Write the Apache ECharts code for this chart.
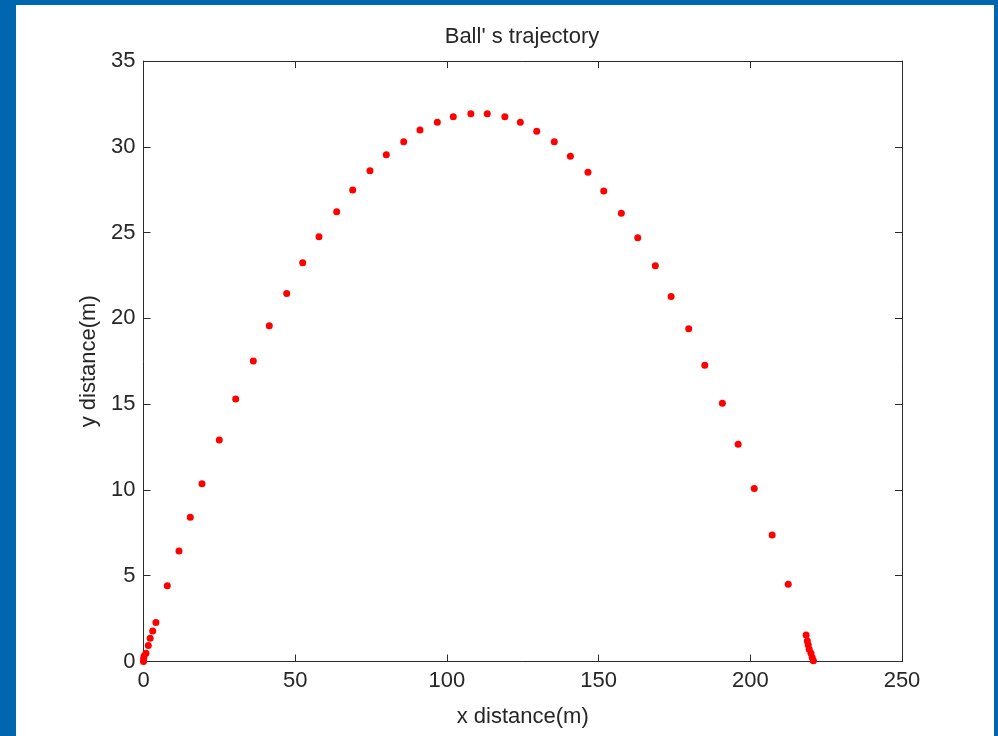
<!DOCTYPE html>
<html>
<head>
<meta charset="utf-8">
<title>Ball' s trajectory</title>
<script src="https://cdn.jsdelivr.net/npm/echarts@6/dist/echarts.min.js"></script>
<style>
  html, body { margin: 0; padding: 0; background: #0066b0; }
  #chart { width: 998px; height: 736px; }
</style>
</head>
<body>
<div id="chart"></div>
<script>
// Horizontal distance of the ball at each solver step (m)
const xDist = [
  0, 0.05, 0.2, 0.82, 1.58, 2.2, 3.03, 4.09, 7.84, 11.7, 15.42, 19.28, 24.98, 30.39,
  36.19, 41.46, 47.2, 52.47, 57.84, 63.68, 68.95, 74.65, 80.03, 85.76, 91.13, 96.84,
  102.1, 107.9, 113.3, 119.1, 124.2, 129.6, 135.4, 140.7, 146.5, 151.7, 157.5, 162.9,
  168.7, 173.9, 179.7, 185.0, 190.8, 196.0, 201.3, 207.2, 212.5,
  218.4, 218.8, 219.1, 219.4, 220.0, 220.4, 220.8
];
// Height of the ball at each solver step (m)
const yDist = [
  0, 0.18, 0.32, 0.48, 0.93, 1.36, 1.78, 2.27, 4.42, 6.44, 8.41, 10.36, 12.91, 15.30,
  17.51, 19.57, 21.45, 23.24, 24.76, 26.22, 27.48, 28.61, 29.54, 30.30, 30.98, 31.43,
  31.75, 31.93, 31.93, 31.75, 31.43, 30.90, 30.30, 29.45, 28.51, 27.42, 26.12, 24.70,
  23.07, 21.27, 19.40, 17.26, 15.05, 12.66, 10.09, 7.37, 4.50,
  1.54, 1.19, 0.96, 0.71, 0.48, 0.24, 0.05
];
const xTicks = [0, 50, 100, 150, 200, 250];
const yTicks = [0, 5, 10, 15, 20, 25, 30, 35];

const points = xDist.map((x, i) => [x, yDist[i]]);

const FONT = 'Liberation Sans, Arial, sans-serif';
const TEXT = '#262626';
const AXIS = '#2b2b2b';

function baseAxis(ticks, extra) {
  return Object.assign({
    type: 'value',
    min: ticks[0],
    max: ticks[ticks.length - 1],
    interval: ticks[1] - ticks[0],
    splitLine: { show: false },
    axisLine: { show: true, onZero: false, lineStyle: { color: AXIS, width: 1 } },
    axisTick: { show: true, inside: true, length: 7, lineStyle: { color: AXIS, width: 1 } }
  }, extra);
}

const chart = echarts.init(document.getElementById('chart'), null, { renderer: 'canvas' });
chart.setOption({
  backgroundColor: '#0066b0',
  animation: false,
  graphic: [{
    type: 'rect',
    z: -10,
    shape: { x: 16, y: 5, width: 978, height: 740 },
    style: { fill: '#ffffff' }
  }],
  title: {
    text: "Ball' s trajectory",
    left: 517,
    textAlign: 'center',
    top: 21,
    textStyle: { fontFamily: FONT, fontSize: 22, fontWeight: 'normal', color: TEXT }
  },
  grid: { left: 143.5, top: 61, width: 758.5, height: 600.5, containLabel: false },
  xAxis: [
    baseAxis(xTicks, {
      position: 'bottom',
      name: 'x distance(m)',
      nameLocation: 'middle',
      nameGap: 44,
      nameTextStyle: { fontFamily: FONT, fontSize: 22, color: TEXT },
      axisLabel: { fontFamily: FONT, fontSize: 22, color: TEXT, margin: 8 }
    }),
    baseAxis(xTicks, { position: 'top', axisLabel: { show: false } })
  ],
  yAxis: [
    baseAxis(yTicks, {
      position: 'left',
      name: 'y distance(m)',
      nameLocation: 'middle',
      nameGap: 42,
      nameRotate: 90,
      nameTextStyle: { fontFamily: FONT, fontSize: 22, color: TEXT },
      axisLabel: { fontFamily: FONT, fontSize: 22, color: TEXT, margin: 8 }
    }),
    baseAxis(yTicks, { position: 'right', axisLabel: { show: false } })
  ],
  series: [{
    type: 'scatter',
    data: points,
    symbol: 'circle',
    symbolSize: 7,
    clip: false,
    itemStyle: { color: '#ff0000', opacity: 1 }
  }]
});
</script>
</body>
</html>
